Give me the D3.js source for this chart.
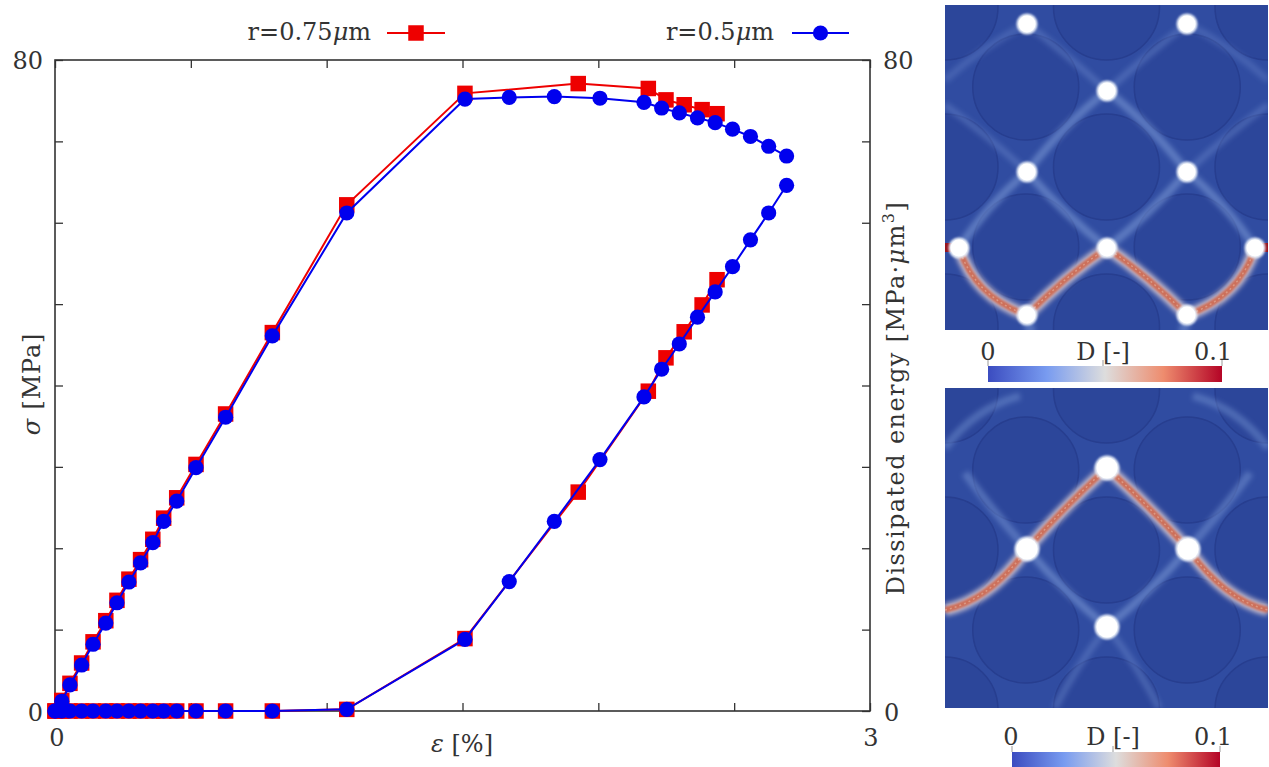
<!DOCTYPE html>
<html><head><meta charset="utf-8">
<script src="https://cdn.jsdelivr.net/npm/d3@7"></script>
<style>
body{margin:0;background:#fff;}
svg{display:block;}
text{font-family:"DejaVu Serif","Liberation Serif",serif;fill:#333;}
</style>
</head><body>
<svg id="c" width="1269" height="767"></svg>
<script>
// ---------------- data ----------------
const seriesNames = ["r=0.75", "r=0.5"];
const strainBlue = [0,0.025,0.055,0.098,0.14,0.187,0.228,0.272,0.315,0.36,0.40,0.448,0.519,0.628,0.80,1.074,1.509,1.672,1.838,2.006,2.168,2.233,2.298,2.365,2.43,2.494,2.56,2.627,2.693];
const stressBlue = [0,1.2,3.2,5.65,8.2,10.8,13.3,15.85,18.2,20.7,23.3,25.8,29.9,36.1,46.1,61.2,75.2,75.4,75.5,75.3,74.8,74.1,73.5,72.9,72.3,71.5,70.6,69.4,68.2];
const energyBlue = [0,0,0,0,0,0,0,0,0,0,0,0,0,0,0,0.2,8.8,15.9,23.3,30.9,38.6,42.0,45.1,48.4,51.5,54.6,57.9,61.2,64.6];
const strainRed = [0,0.025,0.055,0.098,0.14,0.187,0.228,0.272,0.315,0.36,0.40,0.448,0.519,0.628,0.80,1.074,1.509,1.926,2.184,2.249,2.316,2.382,2.437];
const stressRed = [0,1.3,3.4,5.9,8.5,11.1,13.6,16.2,18.6,21.1,23.7,26.2,30.3,36.5,46.5,62.2,75.9,77.1,76.5,75.1,74.5,73.9,73.4];
const energyRed = [0,0,0,0,0,0,0,0,0,0,0,0,0,0,0,0.2,8.9,26.9,39.3,43.4,46.6,49.9,53.0];
const xTicks = [0,0.5,1,1.5,2,2.5,3];
const yTicks = [0,10,20,30,40,50,60,70,80];
const xTickLabels = ["0","3"];
const yTickLabels = ["0","80"];
const colorbarTicks = ["0","0.1"];

// ---------------- chart ----------------
const svg = d3.select("#c");
const L = 55, R = 870, T = 60, B = 711;
const x = d3.scaleLinear().domain([0,3]).range([L,R]);
const y = d3.scaleLinear().domain([0,80]).range([B,T]);
const ink = "#333";

const axG = svg.append("g");
function styleAxis(g){ g.select(".domain").remove(); g.selectAll(".tick line").attr("stroke",ink).attr("stroke-width",1.3); g.selectAll("text").remove(); }
axG.append("g").attr("transform",`translate(${L},0)`).call(d3.axisLeft(y).tickValues(yTicks).tickSize(-8)).call(styleAxis);
axG.append("g").attr("transform",`translate(${R},0)`).call(d3.axisRight(y).tickValues(yTicks).tickSize(-8)).call(styleAxis);
axG.append("g").attr("transform",`translate(0,${T})`).call(d3.axisTop(x).tickValues(xTicks).tickSize(-8)).call(styleAxis);
axG.append("g").attr("transform",`translate(0,${B})`).call(d3.axisBottom(x).tickValues(xTicks).tickSize(-8)).call(styleAxis);
axG.append("rect").attr("x",L).attr("y",T).attr("width",R-L).attr("height",B-T)
  .attr("fill","none").attr("stroke",ink).attr("stroke-width",1.6);

// tick labels
const fs = 24;
svg.append("text").attr("x",L-12).attr("y",y(80)+9).attr("text-anchor","end").attr("font-size",fs).text(yTickLabels[1]);
svg.append("text").attr("x",L-12).attr("y",y(0)+10).attr("text-anchor","end").attr("font-size",fs).text(yTickLabels[0]);
svg.append("text").attr("x",R+13).attr("y",y(80)+9).attr("text-anchor","start").attr("font-size",fs).text(yTickLabels[1]);
svg.append("text").attr("x",R+14).attr("y",y(0)+10).attr("text-anchor","start").attr("font-size",fs).text(yTickLabels[0]);
svg.append("text").attr("x",x(0)+2).attr("y",B+35).attr("text-anchor","middle").attr("font-size",fs).text(xTickLabels[0]);
svg.append("text").attr("x",x(3)+1).attr("y",B+35).attr("text-anchor","middle").attr("font-size",fs).text(xTickLabels[1]);

// axis titles
const xl = svg.append("text").attr("x",462).attr("y",752).attr("text-anchor","middle").attr("font-size",fs);
xl.append("tspan").attr("font-style","italic").text("ε");
xl.append("tspan").text(" [%]");
const yl = svg.append("text").attr("transform","translate(40,384) rotate(-90)").attr("text-anchor","middle").attr("font-size",fs).attr("letter-spacing",0.8);
yl.append("tspan").attr("font-style","italic").text("σ");
yl.append("tspan").text(" [MPa]");
const y2 = svg.append("text").attr("transform","translate(904,398) rotate(-90)").attr("text-anchor","middle").attr("font-size",fs).attr("letter-spacing",1.4);
y2.append("tspan").text("Dissipated energy [MPa·");
y2.append("tspan").attr("font-style","italic").text("μ");
y2.append("tspan").text("m");
y2.append("tspan").attr("font-size",16).attr("dy",-10).text("3");
y2.append("tspan").attr("dy",10).text("]");

// curves
const line = d3.line().x(d=>x(d[0])).y(d=>y(d[1]));
const red = "#ee0000", blue = "#0000ee";
function series(strain, stress, energy, color, marker){
  const g = svg.append("g");
  const s1 = strain.map((v,i)=>[v,stress[i]]);
  const s2 = strain.map((v,i)=>[v,energy[i]]);
  [s1,s2].forEach(pts=>{
    g.append("path").attr("d",line(pts)).attr("fill","none").attr("stroke",color).attr("stroke-width",2);
  });
  [s1,s2].forEach(pts=>{
    if(marker==="square"){
      g.selectAll(null).data(pts).enter().append("rect")
        .attr("x",d=>x(d[0])-7.75).attr("y",d=>y(d[1])-7.75).attr("width",15.5).attr("height",15.5).attr("fill",color);
    } else {
      g.selectAll(null).data(pts).enter().append("circle")
        .attr("cx",d=>x(d[0])).attr("cy",d=>y(d[1])).attr("r",7.6).attr("fill",color);
    }
  });
}
series(strainRed, stressRed, energyRed, red, "square");
series(strainBlue, stressBlue, energyBlue, blue, "circle");

// legend
function legend(label, xr, lx0, lx1, color, marker){
  const t = svg.append("text").attr("x",xr).attr("y",40).attr("text-anchor","end").attr("font-size",fs);
  t.append("tspan").text(label);
  t.append("tspan").attr("font-style","italic").text("μ");
  t.append("tspan").text("m");
  svg.append("line").attr("x1",lx0).attr("x2",lx1).attr("y1",33).attr("y2",33).attr("stroke",color).attr("stroke-width",2);
  const mx=(lx0+lx1)/2;
  if(marker==="square") svg.append("rect").attr("x",mx-7.75).attr("y",33-7.75).attr("width",15.5).attr("height",15.5).attr("fill",color);
  else svg.append("circle").attr("cx",mx).attr("cy",33).attr("r",7.6).attr("fill",color);
}
legend(seriesNames[0], 371, 387, 445, red, "square");
legend(seriesNames[1], 774, 792, 849, blue, "circle");

// ---------------- damage field images ----------------
const defs = svg.append("defs");
const blur = defs.append("filter").attr("id","blur").attr("x","-20%").attr("y","-20%").attr("width","140%").attr("height","140%");
blur.append("feGaussianBlur").attr("stdDeviation",2.4);
const blur2 = defs.append("filter").attr("id","blur2").attr("x","-20%").attr("y","-20%").attr("width","140%").attr("height","140%");
blur2.append("feGaussianBlur").attr("stdDeviation",0.8);
const grad = defs.append("linearGradient").attr("id","cw");
[[0,"rgb(59,76,192)"],[0.25,"rgb(120,155,240)"],[0.5,"rgb(221,221,221)"],[0.75,"rgb(238,140,110)"],[1,"rgb(180,4,38)"]]
  .forEach(s=>grad.append("stop").attr("offset",s[0]).attr("stop-color",s[1]));

function field(id, ox, oy, w, h, dots, dotR, lightBands, redBands, stubs){
  const cp = defs.append("clipPath").attr("id",id);
  cp.append("rect").attr("x",ox).attr("y",oy).attr("width",w).attr("height",h);
  const g = svg.append("g").attr("clip-path",`url(#${id})`);
  g.append("rect").attr("x",ox).attr("y",oy).attr("width",w).attr("height",h).attr("fill","rgb(48,76,161)");
  // inclusions (lattice)
  const circ=[];
  for(let i=-1;i<=5;i++){
    for(let j=-1;j<=3;j++){
      const cx = i*80.75, cy = (i%2===0? 2 : 82) + j*160;
      circ.push([cx,cy]);
    }
  }
  g.selectAll(null).data(circ).enter().append("circle")
    .attr("cx",d=>ox+d[0]).attr("cy",d=>oy+d[1]).attr("r",53)
    .attr("fill","rgb(44,70,154)").attr("stroke","rgb(39,62,143)").attr("stroke-width",1.5);
  const path = d=> `M${ox+d[0]},${oy+d[1]} Q${ox+d[2]},${oy+d[3]} ${ox+d[4]},${oy+d[5]}`;
  const lg = g.append("g").attr("filter","url(#blur)");
  lg.selectAll(null).data(lightBands).enter().append("path").attr("d",path)
    .attr("fill","none").attr("stroke","rgb(120,150,212)").attr("stroke-width",d=>d[6]||8).attr("stroke-opacity",d=>d[7]||0.6);
  const rg = g.append("g");
  rg.selectAll(null).data(redBands).enter().append("path").attr("d",path)
    .attr("fill","none").attr("stroke","rgb(200,190,205)").attr("stroke-width",12).attr("filter","url(#blur)");
  rg.selectAll(null).data(redBands).enter().append("path").attr("d",path)
    .attr("fill","none").attr("stroke","rgb(205,110,88)").attr("stroke-width",6).attr("filter","url(#blur2)");
  rg.selectAll(null).data(redBands).enter().append("path").attr("d",path)
    .attr("fill","none").attr("stroke","rgb(225,170,150)").attr("stroke-width",1.5).attr("stroke-dasharray","2 3").attr("stroke-opacity",0.7);
  g.selectAll(null).data(stubs).enter().append("rect")
    .attr("x",d=>ox+d[0]).attr("y",d=>oy+d[1]).attr("width",d=>d[2]).attr("height",d=>d[3]).attr("fill","rgb(150,20,30)");
  g.selectAll(null).data(dots).enter().append("circle")
    .attr("cx",d=>ox+d[0]).attr("cy",d=>oy+d[1]).attr("r",dotR+2).attr("fill","#e8eef8").attr("filter","url(#blur2)");
  g.selectAll(null).data(dots).enter().append("circle")
    .attr("cx",d=>ox+d[0]).attr("cy",d=>oy+d[1]).attr("r",dotR).attr("fill","#fff");
}

// top field: geometry in image-relative pixels
const topDots = [[82,19],[242,19],[162,86],[82,167],[242,167],[14,243],[162,243],[310,243],[82,310],[242,310]];
const topLight = [
  [162,86, 120,118, 82,167],[162,86, 204,118, 242,167],
  [82,167, 120,210, 162,243],[242,167, 204,210, 162,243],
  [82,167, 42,200, 14,243],[242,167, 282,200, 310,243],
  [82,19, 120,48, 162,86, 7, 0.35],[242,19, 204,48, 162,86, 7, 0.35],
  [82,167, 40,128, 0,100, 7, 0.35],[242,167, 284,128, 323,100, 7, 0.35],
  [82,19, 40,40, 0,75, 7, 0.3],[242,19, 284,40, 323,75, 7, 0.3],
  [82,310, 84,320, 86,330, 10, 0.5],[242,310, 240,320, 238,330, 10, 0.5]
];
const topRed = [[14,243, 30,292, 82,310],[82,310, 122,270, 162,243],[162,243, 202,270, 242,310],[242,310, 294,292, 310,243]];
field("clipTop", 945, 5, 323, 325, topDots, 8.5, topLight, topRed, [[0,238,12,9],[313,238,10,9]]);

// bottom field
const botDots = [[162,80],[82,161],[243,161],[162,239]];
const botLight = [
  [82,161, 120,205, 162,239],[243,161, 205,205, 162,239],
  [82,161, 45,120, 20,85, 8, 0.5],[243,161, 280,120, 305,85, 8, 0.5],
  [0,60, 30,20, 75,8, 8, 0.45],[323,60, 293,20, 248,8, 8, 0.45],
  [162,239, 130,280, 110,320, 7, 0.35],[162,239, 194,280, 214,320, 7, 0.35]
];
const botRed = [[0,222, 45,212, 82,161],[82,161, 120,118, 162,80],[162,80, 204,118, 243,161],[243,161, 280,212, 323,222]];
field("clipBot", 945, 388, 323, 320, botDots, 10.5, botLight, botRed, []);

// colorbars
function colorbar(x0, x1, yb, ty, x0t, midX, x1t){
  svg.append("rect").attr("x",x0).attr("y",yb).attr("width",x1-x0).attr("height",16).attr("fill","url(#cw)");
  [x0, midX, x1].forEach(v=>svg.append("line").attr("x1",v).attr("x2",v).attr("y1",yb-6).attr("y2",yb).attr("stroke","#999").attr("stroke-width",1));
  svg.append("text").attr("x",x0t).attr("y",ty).attr("text-anchor","middle").attr("font-size",fs).text(colorbarTicks[0]);
  svg.append("text").attr("x",x1t).attr("y",ty).attr("text-anchor","middle").attr("font-size",fs).text(colorbarTicks[1]);
  svg.append("text").attr("x",midX).attr("y",ty).attr("text-anchor","middle").attr("font-size",fs).text("D [-]");
}
colorbar(988, 1222, 366, 360, 988, 1103, 1213);
colorbar(1012, 1220, 752, 745, 1011, 1113, 1213);
</script>
</body></html>
